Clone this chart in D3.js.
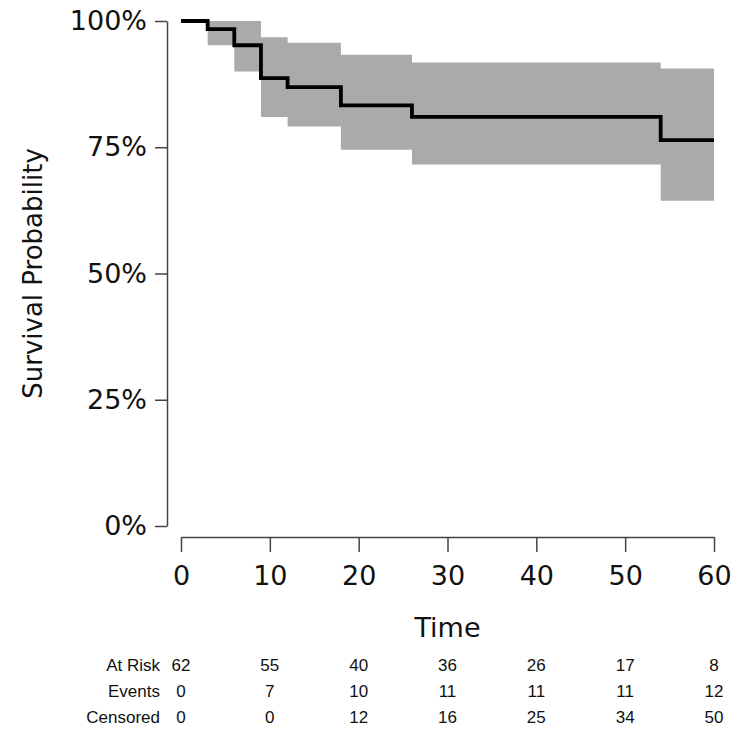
<!DOCTYPE html>
<html>
<head>
<meta charset="utf-8">
<script src="https://cdn.jsdelivr.net/npm/d3@7"></script>
<style>
  body { margin: 0; background: #fff; }
  .tick-label { font-family: 'DejaVu Sans', sans-serif; font-size: 27px; fill: #111; }
  .risk { font-family: 'Liberation Sans', Arial, sans-serif; font-size: 17px; fill: #111; }
</style>
</head>
<body>
<svg id="chart" width="750" height="750"></svg>
<script>
// survival curve (step after)
const stepTimes = [0, 3, 6, 9, 12, 18, 26, 54, 60];
const survival = [1.0, 0.984, 0.952, 0.887, 0.869, 0.833, 0.810, 0.764, 0.764];
const upperCI = [1.0, 1.0, 1.0, 0.968, 0.957, 0.933, 0.918, 0.906, 0.906];
const lowerCI = [1.0, 0.952, 0.900, 0.810, 0.791, 0.745, 0.716, 0.644, 0.644];

// risk table
const tableTimes = [0, 10, 20, 30, 40, 50, 60];
const atRisk = [62, 55, 40, 36, 26, 17, 8];
const events = [0, 7, 10, 11, 11, 11, 12];
const censored = [0, 0, 12, 16, 25, 34, 50];

const yTicks = [0, 0.25, 0.5, 0.75, 1];

const svg = d3.select('#chart');

const xScale = d3.scaleLinear().domain([0, 60]).range([181, 714]);
const yScale = d3.scaleLinear().domain([0, 1]).range([526, 21]);

const curveData = stepTimes.map((t, i) => ({
  time: t,
  s: survival[i],
  lo: lowerCI[i],
  hi: upperCI[i]
}));

const area = d3
  .area()
  .x(d => xScale(d.time))
  .y0(d => yScale(d.lo))
  .y1(d => yScale(d.hi))
  .curve(d3.curveStepAfter);

const line = d3
  .line()
  .x(d => xScale(d.time))
  .y(d => yScale(d.s))
  .curve(d3.curveStepAfter);

svg
  .append('path')
  .datum(curveData)
  .attr('fill', '#aaaaaa')
  .attr('d', area);

svg
  .append('path')
  .datum(curveData)
  .attr('fill', 'none')
  .attr('stroke', '#000')
  .attr('stroke-width', 3.8)
  .attr('d', line);

// y axis
const yAxis = svg
  .append('g')
  .attr('transform', 'translate(167, 0)')
  .call(
    d3
      .axisLeft(yScale)
      .tickValues(yTicks)
      .tickFormat(d3.format('.0%'))
      .tickSize(12)
      .tickPadding(8)
      .tickSizeOuter(0)
  );
yAxis.select('.domain').attr('stroke', '#444').attr('stroke-width', 1.5);
yAxis.selectAll('.tick line').attr('stroke', '#444').attr('stroke-width', 1.5);
yAxis.selectAll('.tick text').attr('class', 'tick-label');
yAxis.attr('font-size', null).attr('font-family', null);

// x axis
const xAxis = svg
  .append('g')
  .attr('transform', 'translate(0, 537)')
  .call(
    d3
      .axisBottom(xScale)
      .tickValues(tableTimes)
      .tickSize(15)
      .tickPadding(14)
      .tickSizeOuter(0)
  );
xAxis.select('.domain').attr('stroke', '#444').attr('stroke-width', 1.5);
xAxis.selectAll('.tick line').attr('stroke', '#444').attr('stroke-width', 1.5);
xAxis.selectAll('.tick text').attr('class', 'tick-label');
xAxis.attr('font-size', null).attr('font-family', null);

// axis titles
svg
  .append('text')
  .attr('x', xScale(30))
  .attr('y', 637)
  .attr('text-anchor', 'middle')
  .attr('font-family', 'DejaVu Sans, sans-serif')
  .attr('font-size', 27)
  .attr('fill', '#111')
  .text('Time');

svg
  .append('text')
  .attr('transform', `translate(42, ${yScale(0.5)}) rotate(-90)`)
  .attr('text-anchor', 'middle')
  .attr('font-family', 'DejaVu Sans, sans-serif')
  .attr('font-size', 26)
  .attr('fill', '#111')
  .text('Survival Probability');

// risk table
const rows = [
  { label: 'At Risk', values: atRisk, y: 671 },
  { label: 'Events', values: events, y: 697 },
  { label: 'Censored', values: censored, y: 723 }
];

rows.forEach(row => {
  svg
    .append('text')
    .attr('class', 'risk')
    .attr('x', 160)
    .attr('y', row.y)
    .attr('text-anchor', 'end')
    .text(row.label);

  svg
    .selectAll(null)
    .data(row.values)
    .enter()
    .append('text')
    .attr('class', 'risk')
    .attr('x', (d, i) => xScale(tableTimes[i]))
    .attr('y', row.y)
    .attr('text-anchor', 'middle')
    .text(d => d);
});
</script>
</body>
</html>
